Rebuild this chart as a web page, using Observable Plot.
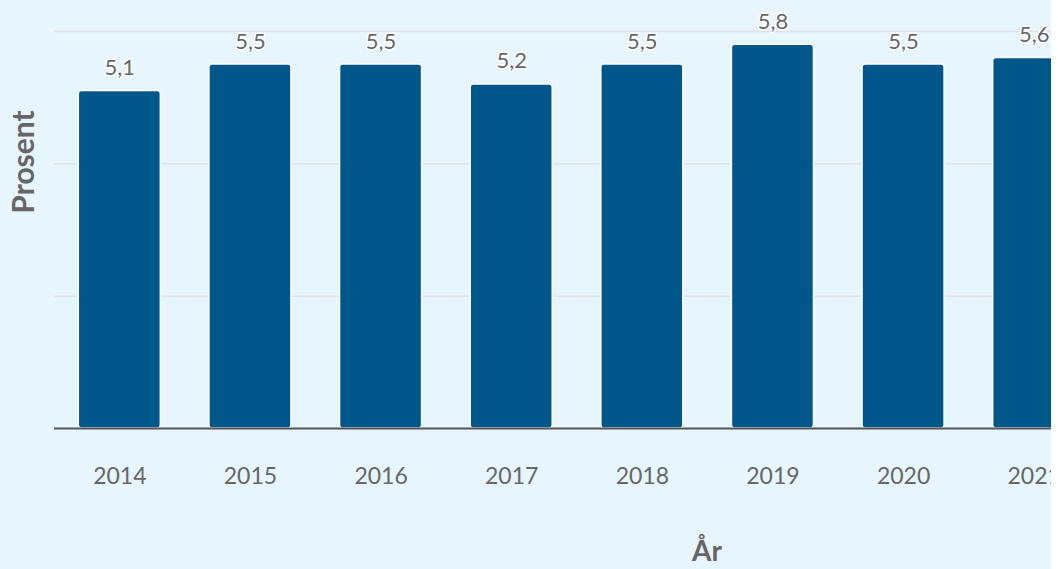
<!DOCTYPE html>
<html>
<head>
<meta charset="utf-8">
<script src="https://cdn.jsdelivr.net/npm/d3@7"></script>
<script src="https://cdn.jsdelivr.net/npm/@observablehq/plot@0.6"></script>
<style>
  html, body { margin: 0; padding: 0; background: #ffffff; overflow: hidden; width: 1058px; height: 569px; }
  #chart { width: 1051px; height: 569px; overflow: hidden; background: #e7f5fe; }
  #chart svg { display: block; max-width: none !important; }
</style>
</head>
<body>
<div id="chart"></div>
<script>
// Data (chart is cropped on the right)
const years = ["2014", "2015", "2016", "2017", "2018", "2019", "2020", "2021"];
const values = [5.1, 5.5, 5.5, 5.2, 5.5, 5.8, 5.5, 5.6];
const gridTicks = [0, 2, 4, 6];

const data = years.map((y, i) => ({year: y, value: values[i]}));
const fmt = v => v.toFixed(1).replace(".", ",");

const font = "Lato, 'Open Sans', sans-serif";
const textColor = "#666666";

const chart = Plot.plot({
  width: 1099,
  height: 569,
  marginLeft: 54,
  marginRight: 0,
  marginTop: 31,
  marginBottom: 141,
  style: {background: "transparent", fontFamily: font, color: textColor, maxWidth: "none"},
  x: {domain: years, paddingInner: 0.372, paddingOuter: 0.186, round: false, label: null},
  y: {domain: [0, 6], label: null},
  marks: [
    Plot.gridY(gridTicks.slice(1), {stroke: "#dfe2e4", strokeOpacity: 1, strokeWidth: 1.5}),
    Plot.barY(data, {x: "year", y: "value", fill: "#01578a", stroke: "#ffffff", strokeWidth: 1.5, rx: 3}),
    Plot.ruleY([0], {stroke: "#555555", strokeWidth: 2}),
    Plot.text(data, {x: "year", y: "value", text: d => fmt(d.value), dy: -23, fontSize: 22, fill: textColor, stroke: "#ffffff", strokeWidth: 3, fontFamily: font}),
    Plot.axisX({tickSize: 0, tickPadding: 39, fontSize: 23, label: "År", labelAnchor: "center", labelOffset: 115, labelArrow: "none", fill: textColor}),
    Plot.axisY({ticks: [], tickSize: 0, label: "Prosent", labelAnchor: "center", labelArrow: "none", labelOffset: 40})
  ]
});

document.getElementById("chart").appendChild(chart);

// Style axis labels (bold, larger) and position them like the reference
const svg = d3.select(chart);
svg.selectAll("[aria-label='x-axis label'] text, [aria-label='y-axis label'] text")
  .attr("font-weight", "bold").attr("fill", textColor);
svg.selectAll("[aria-label='x-axis tick label'] text").attr("fill", textColor);
const yl = svg.select("[aria-label='y-axis label']");
yl.attr("transform", "translate(34,162) rotate(-90)");
yl.select("text").attr("transform", null).attr("x", 0).attr("y", 0).attr("text-anchor", "middle").attr("dy", null).attr("font-size", 30);
const xl = svg.select("[aria-label='x-axis label']");
xl.attr("transform", null);
xl.select("text").attr("transform", null).attr("x", 707).attr("y", 561).attr("text-anchor", "middle").attr("dy", null).attr("font-size", 28);
</script>
</body>
</html>
